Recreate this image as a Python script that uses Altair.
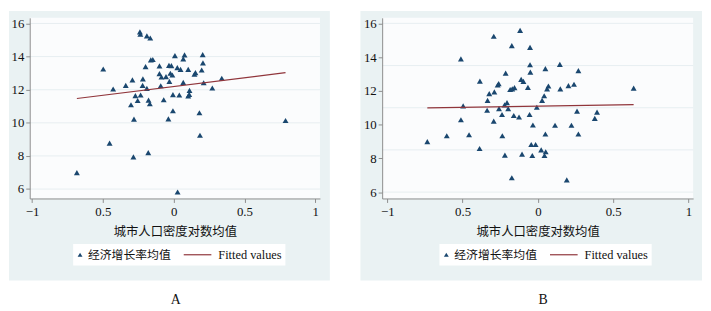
import altair as alt
import pandas as pd

# ---------------- data ----------------
a_x = [-0.683, -0.497, -0.427, -0.452, -0.338, -0.291, -0.301, -0.280, -0.284, -0.270,
       -0.254, -0.233, -0.238, -0.235, -0.217, -0.219, -0.198, -0.189, -0.189, -0.165,
       -0.177, -0.168, -0.179, -0.161, -0.147, -0.100, -0.100, -0.086, -0.091, -0.070,
       -0.054, -0.037, -0.033, -0.030, -0.023, -0.016, -0.009, -0.005, -0.005, 0.009,
       0.026, 0.028, 0.040, 0.049, 0.068, 0.068, 0.077, 0.103, 0.103, 0.110,
       0.112, 0.147, 0.154, 0.182, 0.186, 0.198, 0.205, 0.207, 0.212, 0.273,
       0.340, 0.790]
a_y = [6.99, 13.25, 12.04, 8.77, 12.26, 12.59, 11.09, 10.22, 7.94, 11.64,
       11.35, 11.68, 15.49, 15.35, 12.65, 12.26, 13.39, 12.08, 15.25, 15.12,
       11.37, 11.15, 8.20, 13.80, 13.82, 13.44, 12.97, 12.77, 12.24, 11.39,
       12.79, 10.24, 13.47, 12.50, 12.99, 13.45, 12.89, 11.70, 10.73, 14.06,
       13.33, 5.82, 11.68, 13.23, 12.44, 13.86, 14.10, 13.23, 11.62, 11.72,
       11.96, 12.93, 13.03, 10.61, 9.25, 13.19, 14.12, 13.62, 12.42, 12.10,
       12.69, 10.14]

b_x = [-0.734, -0.605, -0.511, -0.496, -0.511, -0.457, -0.387, -0.385, -0.323, -0.334,
       -0.337, -0.293, -0.289, -0.293, -0.267, -0.260, -0.258, -0.238, -0.236, -0.221,
       -0.214, -0.205, -0.197, -0.219, -0.184, -0.173, -0.170, -0.160, -0.155, -0.173,
       -0.125, -0.118, -0.111, -0.105, -0.096, -0.066, -0.052, -0.052, -0.050, -0.055,
       -0.033, -0.044, -0.037, -0.015, -0.007, 0.022, 0.028, 0.042, 0.050, 0.050,
       0.044, 0.052, 0.061, 0.070, 0.114, 0.146, 0.149, 0.192, 0.203, 0.223,
       0.240, 0.260, 0.269, 0.269, 0.378, 0.393, 0.636]
b_y = [8.99, 9.34, 13.90, 11.11, 10.29, 9.40, 8.58, 12.58, 11.84, 11.44,
       10.85, 15.24, 11.94, 10.21, 12.35, 12.43, 10.95, 10.60, 9.34, 11.17,
       13.05, 11.30, 10.95, 8.19, 12.08, 14.68, 12.12, 10.54, 12.19, 6.85,
       10.45, 15.59, 12.68, 8.25, 12.56, 12.21, 14.58, 13.55, 13.11, 10.60,
       9.98, 8.82, 8.17, 8.82, 11.03, 8.50, 11.44, 11.71, 13.32, 9.44,
       8.17, 8.39, 12.12, 12.29, 9.96, 13.57, 12.12, 6.72, 12.31, 9.96,
       12.39, 10.80, 13.20, 9.44, 10.37, 10.74, 12.16]

fit_a_x = [-0.683, 0.790]
fit_a_y = [11.47, 13.03]
fit_b_x = [-0.734, 0.636]
fit_b_y = [10.99, 11.18]

y_ticks = [6, 8, 10, 12, 14, 16]
x_ticks = [-1, -0.5, 0, 0.5, 1]
grid_a = [6, 8, 10, 12, 14, 16]
grid_b = [6, 8.5, 11, 13.5, 16]

x_title = "城市人口密度对数均值"
legend_labels = ["经济增长率均值", "Fitted values"]
panel_labels = ["A", "B"]

# ---------------- styles ----------------
OUTER = "#eaf2f3"
PLOT = "#fbfcfd"
GRID = "#e7eef1"
AXIS = "#8c8c8c"
NAVY = "#1a476f"
MAROON = "#90353b"
SERIF = "Liberation Serif"
CJK = "Noto Sans CJK SC"


def one(**kw):
    return pd.DataFrame([kw])


def panel(px, py, fx, fy, grid, xdom, ydom, W, H, box, leg_dx, label, label_x):
    xscale = alt.Scale(domain=xdom, nice=False, zero=False)
    yscale = alt.Scale(domain=ydom, nice=False, zero=False)
    xaxis = alt.Axis(values=x_ticks, grid=False, domainColor=AXIS, tickColor=AXIS,
                     tickSize=4, labelFont=SERIF, labelFontSize=13, labelColor="#111",
                     labelPadding=3,
                     labelExpr="datum.value < -0.75 ? '\u22121' : format(abs(datum.value), '.1~f')",
                     title=x_title, titleFont=CJK, titleFontSize=12.5,
                     titleFontWeight="normal", titleColor="#111", titlePadding=8,
                     zindex=1)
    yaxis = alt.Axis(values=y_ticks, grid=False, domainColor=AXIS, tickColor=AXIS,
                     tickSize=4, labelFont=SERIF, labelFontSize=13, labelColor="#111",
                     labelPadding=2, title=None, zindex=1)

    bx1, bx2, by1, by2 = box
    outer = alt.Chart(one(k=0)).mark_rect(color=OUTER).encode(
        x=alt.value(bx1), x2=alt.value(bx2), y=alt.value(by1), y2=alt.value(by2))
    plot = alt.Chart(one(k=0)).mark_rect(color=PLOT).encode(
        x=alt.value(0), x2=alt.value(W), y=alt.value(0), y2=alt.value(H))

    gridl = alt.Chart(pd.DataFrame({"g": grid})).mark_rule(color=GRID, strokeWidth=1).encode(
        y=alt.Y("g:Q", scale=yscale, axis=yaxis))

    pts = alt.Chart(pd.DataFrame({"x": px, "y": py})).mark_point(
        shape="triangle-up", filled=True, color=NAVY, opacity=1, size=36).encode(
        x=alt.X("x:Q", scale=xscale, axis=xaxis),
        y=alt.Y("y:Q", scale=yscale, axis=yaxis))

    fit = alt.Chart(pd.DataFrame({"x": fx, "y": fy})).mark_line(
        color=MAROON, strokeWidth=1.2).encode(
        x=alt.X("x:Q", scale=xscale, axis=xaxis),
        y=alt.Y("y:Q", scale=yscale, axis=yaxis))

    d = leg_dx
    leg_box = alt.Chart(one(k=0)).mark_rect(color="white").encode(
        x=alt.value(44 + d), x2=alt.value(259 + d), y=alt.value(229), y2=alt.value(251))
    leg_tri = alt.Chart(one(k=0)).mark_point(
        shape="triangle-up", filled=True, color=NAVY, opacity=1, size=24).encode(
        x=alt.value(51 + d), y=alt.value(240))
    leg_t1 = alt.Chart(one(t=legend_labels[0])).mark_text(
        font=CJK, fontSize=12, color="#111", align="left", baseline="middle").encode(
        x=alt.value(59 + d), y=alt.value(240), text="t:N")
    leg_line = alt.Chart(one(k=0)).mark_rule(color=MAROON, strokeWidth=1.2).encode(
        x=alt.value(156 + d), x2=alt.value(184 + d), y=alt.value(240))
    leg_t2 = alt.Chart(one(t=legend_labels[1])).mark_text(
        font=SERIF, fontSize=12.5, color="#111", align="left", baseline="middle").encode(
        x=alt.value(191 + d), y=alt.value(240), text="t:N")

    lab = alt.Chart(one(t=label)).mark_text(
        font=SERIF, fontSize=14, color="#111", align="center", baseline="middle").encode(
        x=alt.value(label_x), y=alt.value(286), text="t:N")

    return alt.layer(outer, plot, gridl, pts, fit, leg_box, leg_tri, leg_t1,
                     leg_line, leg_t2, lab).properties(width=W, height=H)


pa = panel(a_x, a_y, fit_a_x, fit_a_y, grid_a, [-1.016, 1.033], [5.43, 16.34],
           294, 183, (-21, 304, -7, 266), 0, panel_labels[0], 148)
pb = panel(b_x, b_y, fit_b_x, fit_b_y, grid_b, [-1.034, 1.031], [5.62, 16.33],
           315, 183, (-22, 324, -7, 266), 14, panel_labels[1], 163)

chart = alt.hconcat(pa, pb, spacing=29).properties(padding=0).configure(
    background="white").configure_view(stroke="transparent")

chart.save("out.html", embed_options={"renderer": "svg", "actions": False})
